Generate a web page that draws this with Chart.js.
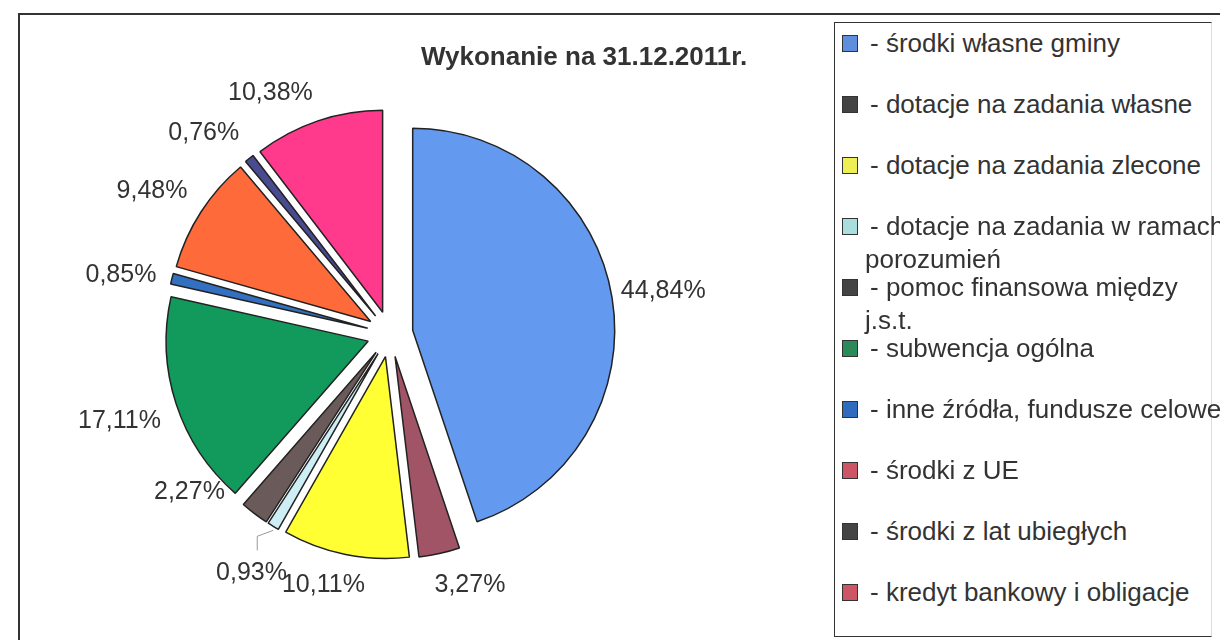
<!DOCTYPE html>
<html>
<head>
<meta charset="utf-8">
<script src="https://cdn.jsdelivr.net/npm/chart.js@4"></script>
<style>
  body { margin: 0; background: #fff; font-family: "Liberation Sans", Arial, sans-serif; }
  #wrap { position: relative; width: 1220px; height: 640px; overflow: hidden; }
  #frame { position: absolute; left: 18px; top: 13px; width: 1240px; height: 700px; border-left: 2px solid #333; border-top: 2px solid #333; }
  #title { position: absolute; left: 421px; top: 41px; font-size: 26px; font-weight: bold; color: #333; white-space: nowrap; }
  #legend { position: absolute; left: 834px; top: 22px; width: 376px; height: 613px; border: 1px solid #333; border-right-color: #ddd; background: #fff; }
  .item { position: absolute; left: 6px; font-size: 26px; line-height: 33px; color: #333; white-space: nowrap; }
  .sw { position: absolute; left: 1px; top: 8px; width: 14px; height: 15px; border: 1.5px solid #333; }
  .txt { padding-left: 29px; }
  .txt span { display: block; margin-left: -5px; }
  canvas { position: absolute; left: 0; top: 0; }
</style>
</head>
<body>
<div id="wrap">
  <div id="frame"></div>
  <canvas id="pieChart" width="1220" height="640"></canvas>
  <div id="title">Wykonanie na 31.12.2011r.</div>
  <div id="legend"></div>
</div>
<script>
// source categories (legend order), shares in %, slice colours
var categories = [
  "środki własne gminy",
  "dotacje na zadania własne",
  "dotacje na zadania zlecone",
  "dotacje na zadania w ramach|porozumień",
  "pomoc finansowa między|j.s.t.",
  "subwencja ogólna",
  "inne źródła, fundusze celowe",
  "środki z UE",
  "środki z lat ubiegłych",
  "kredyt bankowy i obligacje"
];
var shares = [44.84, 3.27, 10.11, 0.93, 2.27, 17.11, 0.85, 9.48, 0.76, 10.38];
var sliceColors = ["#639af0", "#a05466", "#ffff33", "#cdeef5", "#6b5a5a", "#129a5c", "#3470c0", "#ff6a3a", "#4a4a90", "#ff3a8c"];
var legendColors = ["#5f8fdc", "#444444", "#eeee55", "#aadddd", "#444444", "#2a8a5a", "#2f6bbf", "#cc5566", "#444444", "#cc5566"];

// html legend, fixed pitch like the original
var legendBox = document.getElementById("legend");
categories.forEach(function (c, i) {
  var parts = c.split("|");
  var div = document.createElement("div");
  div.className = "item";
  div.style.top = (4 + i * 61) + "px";
  div.innerHTML = '<div class="sw" style="background:' + legendColors[i] + '"></div>' +
    '<div class="txt">- ' + parts[0] + (parts[1] ? '<span>' + parts[1] + '</span>' : '') + '</div>';
  legendBox.appendChild(div);
});

Chart.defaults.font.family = "Liberation Sans";

var RADIUS = 202;
var EXPLODE = 23;   // px the slices move out (chart.js moves offset/4)
// Excel "best fit" moved a few labels; small tweaks for those
var labelNudge = { 0: [-7, -4], 1: [27, 3], 2: [-19, 2], 3: [22, 21], 4: [-20, -47] };

// chart.js grows the radius and trims the angle of exploded arcs;
// undo both so every slice keeps its true size
var evenRadius = {
  id: "evenRadius",
  beforeDatasetsDraw: function (chart) {
    chart.getDatasetMeta(0).data.forEach(function (arc) {
      if (arc.$s === undefined) { arc.$s = arc.startAngle; arc.$e = arc.endAngle; }
      var ro = EXPLODE * (1 - Math.sin(Math.min(Math.PI, arc.circumference || 0)));
      arc.outerRadius = RADIUS - ro;
      var widen = ro / Math.PI / RADIUS / 2;
      arc.startAngle = arc.$s - widen;
      arc.endAngle = arc.$e + widen;
    });
  }
};

var pctLabels = {
  id: "pctLabels",
  afterDatasetsDraw: function (chart) {
    var ctx = chart.ctx;
    var meta = chart.getDatasetMeta(0);
    ctx.save();
    ctx.font = '25px "Liberation Sans"';
    ctx.fillStyle = "#333";
    meta.data.forEach(function (arc, i) {
      var mid = (arc.startAngle + arc.endAngle) / 2;
      var cx = Math.cos(mid), cy = Math.sin(mid);
      var R = RADIUS + EXPLODE + 16;
      var x = arc.x + R * cx, y = arc.y + R * cy;
      ctx.textAlign = cx > 0.3 ? "left" : (cx < -0.3 ? "right" : "center");
      ctx.textBaseline = cy < -0.3 ? "bottom" : (cy > 0.3 ? "top" : "middle");
      var n = labelNudge[i] || [0, 0];
      x += n[0]; y += n[1];
      ctx.fillText(shares[i].toFixed(2).replace(".", ",") + "%", x, y);
      if (i === 3) {
        // leader line for the thin slice
        var ox = arc.x + (RADIUS + EXPLODE) * cx, oy = arc.y + (RADIUS + EXPLODE) * cy;
        ctx.strokeStyle = "#999";
        ctx.lineWidth = 1;
        ctx.beginPath();
        ctx.moveTo(ox, oy + 4);
        ctx.lineTo(ox - 16, oy + 10);
        ctx.lineTo(ox - 16, oy + 24);
        ctx.stroke();
      }
    });
    ctx.restore();
  }
};

var pie = new Chart(document.getElementById("pieChart"), {
  type: "pie",
  data: {
    labels: categories.map(function (c) { return c.replace("|", " "); }),
    datasets: [{
      data: shares,
      backgroundColor: sliceColors,
      borderColor: "#222",
      borderWidth: 1.5,
      offset: EXPLODE * 4,
      hoverOffset: 0
    }]
  },
  options: {
    responsive: false,
    animation: false,
    radius: RADIUS,
    layout: { padding: { left: 0, right: 440, top: 28, bottom: 0 } },
    plugins: {
      legend: { display: false },
      tooltip: { enabled: false }
    }
  },
  plugins: [evenRadius, pctLabels]
});
</script>
</body>
</html>
